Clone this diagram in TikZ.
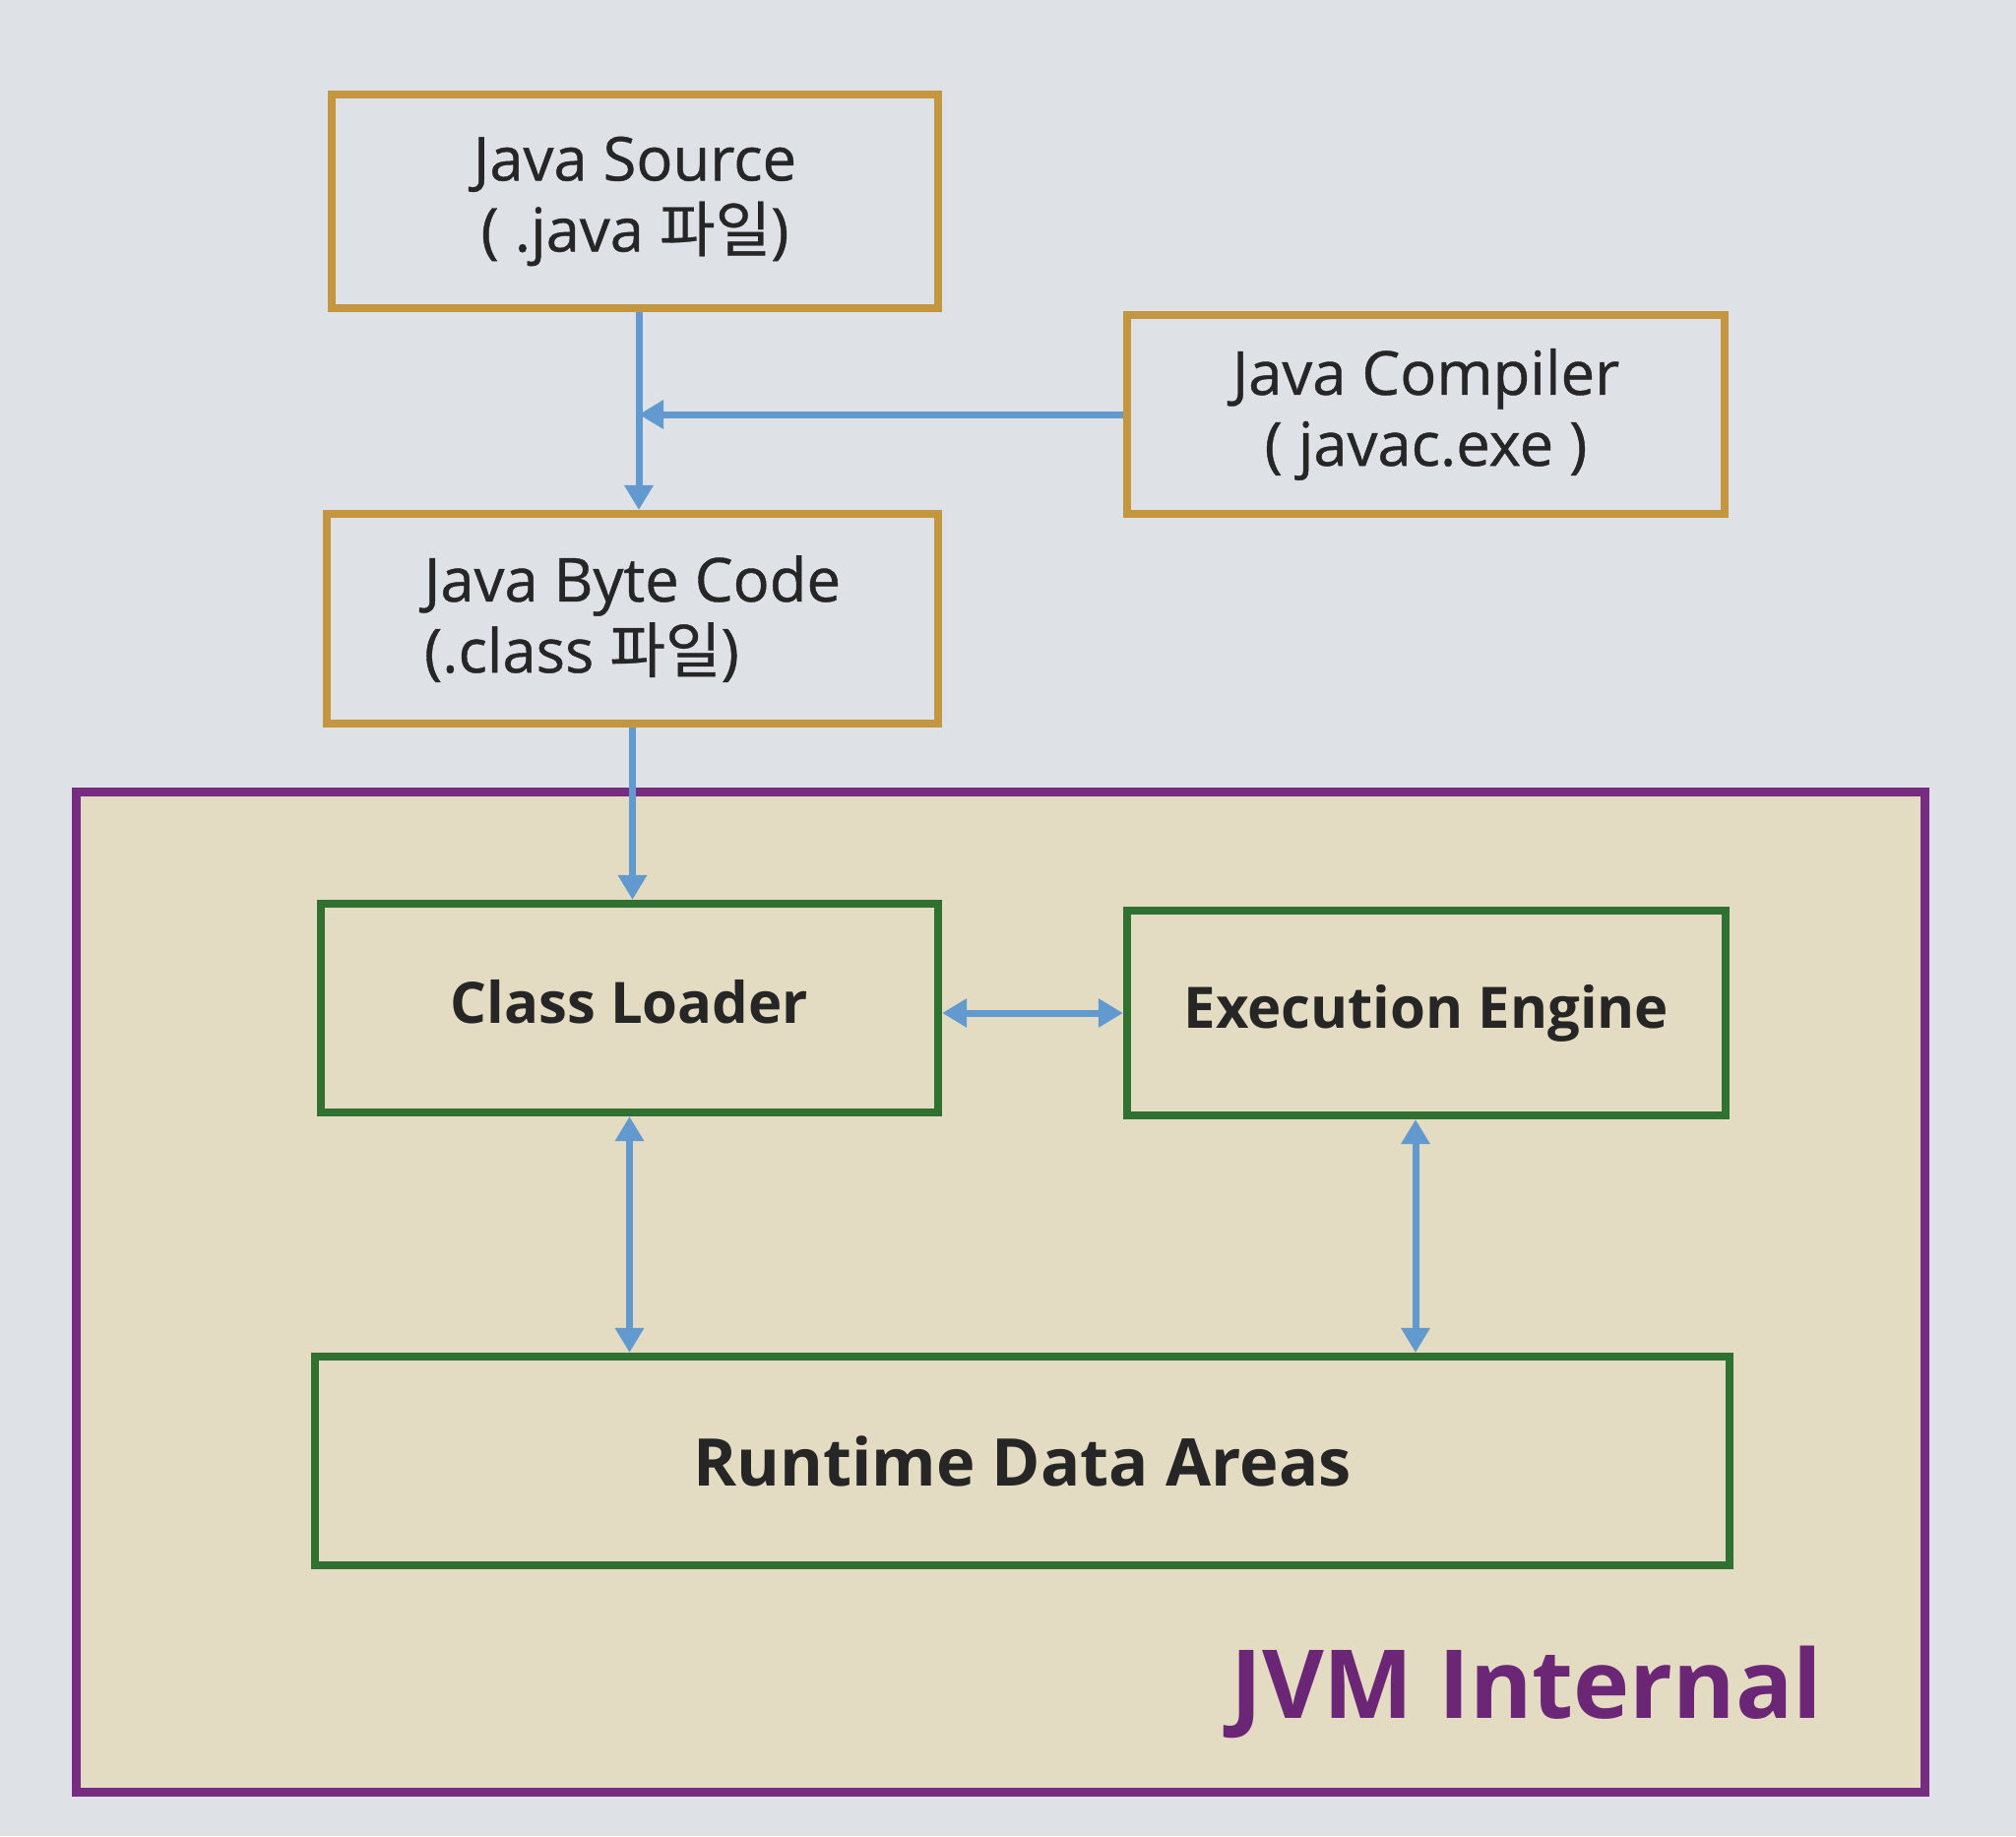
\documentclass[tikz,border=0pt]{standalone}
\usepackage{fontspec}
\setmainfont{Open Sans}
\newfontfamily\semi[FakeBold=0.7]{Open Sans}
\newfontfamily\kr[FakeBold=0.5]{Noto Sans CJK KR}
\usetikzlibrary{arrows.meta,calc}
\definecolor{bgc}{RGB}{222,226,231}
\definecolor{gold}{RGB}{196,150,64}
\definecolor{beige}{RGB}{228,220,194}
\definecolor{purp}{RGB}{118,44,128}
\definecolor{grn}{RGB}{48,112,48}
\definecolor{arr}{RGB}{98,154,208}
\definecolor{txt}{RGB}{38,38,38}
\definecolor{jvmtxt}{RGB}{108,38,118}
\tikzset{
  srcbox/.style={draw=gold, line width=0.08cm, fill=bgc, inner sep=0pt, text=txt, font=\semi\fontsize{17.5}{20.5}\selectfont},
  jvmbox/.style={draw=grn, line width=0.08cm, fill=beige, inner sep=0pt, text=txt},
  tip/.style={Triangle[width=0.28cm,length=0.25cm]},
  conn/.style={draw=arr, line width=0.07cm, -{Triangle[width=0.28cm,length=0.25cm]}},
  biconn/.style={draw=arr, line width=0.07cm, {Triangle[width=0.28cm,length=0.25cm]}-{Triangle[width=0.28cm,length=0.25cm]}}
}
\begin{document}
\begin{tikzpicture}[x=0.01cm,y=-0.01cm]
\useasboundingbox (0,0) rectangle (2048,1865);
\fill[bgc] (0,0) rectangle (2048,1865);
% JVM container
\node[draw=purp, line width=0.09cm, fill=beige, minimum width=18.77cm, minimum height=10.15cm, inner sep=0pt] (jvm) at (1016.5,1312.5) {};
\node[anchor=base east, text=jvmtxt, font=\bfseries\fontsize{27.5}{32}\selectfont, inner sep=0pt] (jvml) at (1852,1745) {JVM Internal};
% top boxes
\node[srcbox, minimum width=6.16cm, minimum height=2.17cm, align=center] (src) at (645,204.5) {Java Source\\ ( .java {\kr 파일})};
\node[srcbox, minimum width=6.07cm, minimum height=2.02cm, align=center] (comp) at (1448.5,421) {Java Compiler\\( javac.exe )};
\node[srcbox, minimum width=6.21cm, minimum height=2.13cm, align=left] (bc) at (642.5,628.5) {Java Byte Code\\(.class {\kr 파일})};
% inner boxes
\node[jvmbox, minimum width=6.27cm, minimum height=2.12cm, font=\bfseries\fontsize{16.5}{20}\selectfont] (cl) at (639.5,1024) {\raisebox{4pt}{Class Loader}};
\node[jvmbox, minimum width=6.08cm, minimum height=2.08cm, font=\bfseries\fontsize{16.5}{20}\selectfont] (ee) at (1449,1029) {Execution Engine};
\node[jvmbox, minimum width=14.37cm, minimum height=2.12cm, font=\bfseries\fontsize{19}{23}\selectfont] (rt) at (1038.5,1484) {Runtime Data Areas};
% connectors
\coordinate (j) at ($(src.south)+(4,0)$);
\draw[conn] (j) -- (j |- bc.north);
\draw[conn] (comp.west) -- (comp.west -| j);
\draw[conn] (bc.south) -- (bc.south |- cl.north);
\draw[biconn] (cl.east |- ee.west) -- (ee.west);
\draw[biconn] (cl.south) -- (cl.south |- rt.north);
\coordinate (k) at ($(ee.south)+(-11,0)$);
\draw[biconn] (k) -- (k |- rt.north);
\end{tikzpicture}
\end{document}
